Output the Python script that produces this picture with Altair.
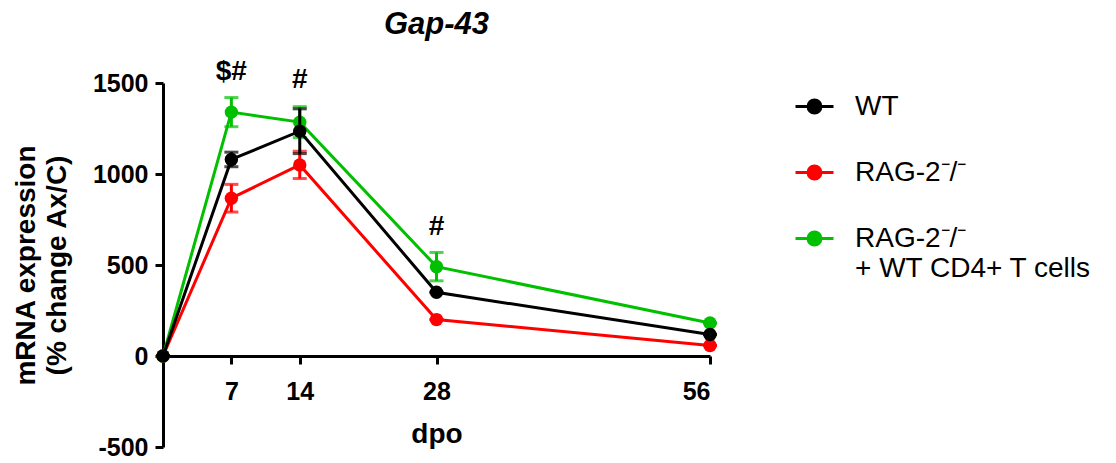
import altair as alt
import pandas as pd

# ---- data ----
days = [0, 7, 14, 28, 56]
groups = ["WT", "RAG-2⁻/⁻", "RAG-2⁻/⁻|+ WT CD4+ T cells"]
colors = ["#000000", "#FF0000", "#00C000"]

wt_mean = [0, 1080, 1235, 350, 118]
wt_sem = [0, 40, 123, 0, 0]
rag_mean = [0, 867, 1050, 200, 58]
rag_sem = [0, 76, 75, 0, 0]
cd4_mean = [0, 1340, 1285, 491, 181]
cd4_sem = [0, 80, 85, 78, 0]

sig_days = [7, 14, 28]
sig_labels = ["$#", "#", "#"]
sig_pos = [1562, 1515, 710]

y_ticks = [-500, 0, 500, 1000, 1500]
x_ticks = [7, 14, 28, 56]

rows = []
for g, m, s in zip(groups, [wt_mean, rag_mean, cd4_mean], [wt_sem, rag_sem, cd4_sem]):
    for d, mv, sv in zip(days, m, s):
        rows.append({"group": g, "dpo": d, "mean": mv, "lo": mv - sv, "hi": mv + sv})
df = pd.DataFrame(rows)
sig_df = pd.DataFrame({"dpo": sig_days, "label": sig_labels, "pos": sig_pos})

FONT = "Liberation Sans"
W, H = 547, 364

xscale = alt.Scale(domain=[0, 56], nice=False, zero=False)
yscale = alt.Scale(domain=[-500, 1500], nice=False, zero=False)

xaxis = alt.Axis(values=x_ticks, title="dpo", offset=-91, grid=False,
                 labelExpr="'' + datum.value",
                 domainColor="black", domainWidth=3, tickColor="black", tickWidth=3,
                 tickSize=8, labelFont=FONT, labelFontSize=25, labelFontWeight="bold",
                 labelColor="black", labelPadding=15, titleFont=FONT, titleFontSize=28,
                 titleFontWeight="bold", titleColor="black", titlePadding=16)
yaxis = alt.Axis(values=y_ticks, title=["mRNA expression", "(% change Ax/C)"], grid=False,
                 labelExpr="'' + datum.value",
                 domainColor="black", domainWidth=3, tickColor="black", tickWidth=3,
                 tickSize=8, labelFont=FONT, labelFontSize=25, labelFontWeight="bold",
                 labelColor="black", labelPadding=7, titleFont=FONT, titleFontSize=28,
                 titleFontWeight="bold", titleColor="black", titlePadding=21,
                 titleLineHeight=31)

sym_path = ("M-1,0H1"
            "M0.34,0A0.34,0.34,0,1,1,-0.34,0A0.34,0.34,0,1,1,0.34,0"
            "M0.2,0A0.2,0.2,0,1,1,-0.2,0A0.2,0.2,0,1,1,0.2,0"
            "M0.07,0A0.07,0.07,0,1,1,-0.07,0A0.07,0.07,0,1,1,0.07,0")

legend = alt.Legend(title=None, orient="none", legendX=631, legendY=3,
                    symbolType=sym_path, symbolSize=1444, symbolStrokeWidth=3,
                    symbolOpacity=1, labelFont=FONT, labelFontSize=28,
                    labelColor="black", labelLimit=400, labelOffset=20,
                    rowPadding=31, padding=0,
                    labelExpr="split(datum.label, '|')")

cscale = alt.Scale(domain=groups, range=colors)


def X():
    return alt.X("dpo:Q", scale=xscale, axis=xaxis)


def Y(field):
    return alt.Y(field, scale=yscale, axis=yaxis)


def C():
    return alt.Color("group:N", scale=cscale, legend=legend)


layers = []
for g in [groups[1], groups[2], groups[0]]:
    base = alt.Chart(df).transform_filter(alt.datum.group == g)
    layers.append(base.mark_rule(strokeWidth=3).encode(x=X(), y=Y("lo:Q"), y2="hi:Q", color=C()))
    layers.append(base.mark_tick(orient="horizontal", thickness=3, size=14).encode(
        x=X(), y=Y("lo:Q"), color=C()))
    layers.append(base.mark_tick(orient="horizontal", thickness=3, size=14).encode(
        x=X(), y=Y("hi:Q"), color=C()))
    layers.append(base.mark_line(strokeWidth=3).encode(
        x=X(), y=Y("mean:Q"), color=C()))
    layers.append(base.mark_point(filled=True, size=180, opacity=1).encode(
        x=X(), y=Y("mean:Q"), color=C()))

sig = alt.Chart(sig_df).mark_text(font=FONT, fontSize=28, fontWeight="bold",
                                  color="black", baseline="middle").encode(
    x=X(), y=Y("pos:Q"), text="label:N")
layers.append(sig)

chart = alt.layer(*layers).properties(
    width=W, height=H, padding={"left": 4, "top": 0, "right": 0, "bottom": 0},
    title=alt.TitleParams(text="Gap-43", frame="group", anchor="middle", fontSize=31,
                          fontStyle="italic", fontWeight="bold", font=FONT,
                          color="black", offset=17)
).configure_view(stroke=None)

chart.save("out.html", embed_options={"renderer": "svg", "actions": False})
